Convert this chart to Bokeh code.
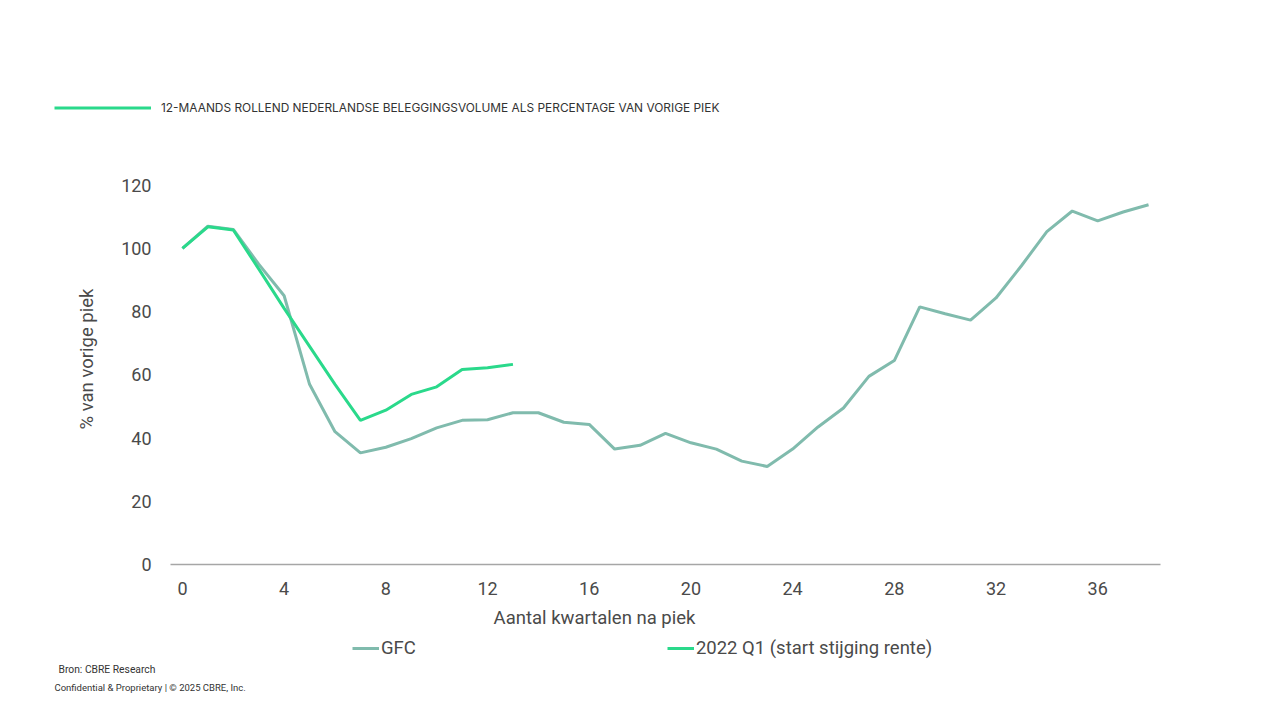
from bokeh.plotting import figure
from bokeh.layouts import column
from bokeh.models import (ColumnDataSource, Legend, LegendItem, Label, Range1d,
                          FixedTicker)
from bokeh.embed import file_html
from bokeh.resources import INLINE

# ---- data ----
gfc_quarters = list(range(0, 39))
gfc_values = [100, 107, 106, 95, 85, 57, 42, 35.3, 37.1, 39.8, 43.2, 45.6, 45.8,
              48.0, 48.0, 45.0, 44.3, 36.5, 37.7, 41.5, 38.5, 36.5, 32.7, 31.0,
              36.5, 43.5, 49.5, 59.5, 64.5, 81.5, 79.3, 77.3, 84.3, 94.5, 105.3,
              111.8, 108.7, 111.5, 113.8]
r22_quarters = list(range(0, 14))
r22_values = [100, 106.8, 105.8, 93.5, 81, 69, 57, 45.6, 48.8, 53.8, 56.2, 61.7,
              62.2, 63.3]
x_ticks = [0, 4, 8, 12, 16, 20, 24, 28, 32, 36]
y_ticks = [0, 20, 40, 60, 80, 100, 120]

series_names = ["GFC", "2022 Q1 (start stijging rente)"]
header_text = "12-MAANDS ROLLEND NEDERLANDSE BELEGGINGSVOLUME ALS PERCENTAGE VAN VORIGE PIEK"
x_title = "Aantal kwartalen na piek"
y_title = "% van vorige piek"
source_text = "Bron: CBRE Research"
footer_text = "Confidential & Proprietary  |  \u00a9 2025 CBRE, Inc."

GFC_COLOR = "#80BBAD"
NEW_COLOR = "#2AD98B"
TXT = "#4A4A4A"
FONT = "Roboto"
W = 1280
NAN = float("nan")


def blank_fig(h):
    f = figure(width=W, height=h, output_backend="svg", toolbar_location=None,
               x_range=Range1d(0, W), y_range=Range1d(0, h),
               min_border=0, outline_line_color=None, frame_align=False)
    f.axis.visible = False
    f.grid.visible = False
    return f


def legend_proxy(f, color):
    # invisible line (NaN values) used only to draw the legend swatch
    return f.line([0, 1], [NAN, NAN], line_color=color, line_width=3)


# ---------- header (legend of the chart) ----------
top = blank_fig(140)
t_line = legend_proxy(top, NEW_COLOR)
top_leg = Legend(items=[LegendItem(label=header_text, renderers=[t_line])],
                 location=(54, 140 - 115), glyph_width=97, glyph_height=13,
                 label_height=13, label_standoff=10,
                 label_text_font="Inter", label_text_font_size="11.9px",
                 label_text_color="#333333", padding=0, margin=0,
                 border_line_color=None, background_fill_alpha=0)
top.add_layout(top_leg)

# ---------- main chart ----------
p = figure(width=W, height=462, output_backend="svg", toolbar_location=None,
           x_range=Range1d(-0.47, 38.47), y_range=Range1d(0, 130),
           min_border_left=170, min_border_right=120, min_border_top=13,
           min_border_bottom=38, outline_line_color=None, frame_align=False)
p.grid.visible = False

src_gfc = ColumnDataSource(dict(x=gfc_quarters, y=gfc_values))
src_new = ColumnDataSource(dict(x=r22_quarters, y=r22_values))
r_gfc = p.line("x", "y", source=src_gfc, line_color=GFC_COLOR, line_width=3)
r_new = p.line("x", "y", source=src_new, line_color=NEW_COLOR, line_width=3)

xa = p.xaxis[0]
xa.ticker = FixedTicker(ticks=x_ticks)
xa.axis_line_color = "#A6A6A6"
xa.axis_line_width = 1.5
xa.major_tick_line_color = None
xa.minor_tick_line_color = None
xa.major_label_text_font = FONT
xa.major_label_text_font_size = "18px"
xa.major_label_text_color = TXT
xa.major_label_standoff = 11

ya = p.yaxis[0]
ya.ticker = FixedTicker(ticks=y_ticks)
ya.axis_line_color = None
ya.major_tick_line_color = None
ya.minor_tick_line_color = None
ya.major_label_text_font = FONT
ya.major_label_text_font_size = "18px"
ya.major_label_text_color = TXT
ya.major_label_standoff = 13
ya.axis_label = y_title
ya.axis_label_text_font = FONT
ya.axis_label_text_font_size = "18.5px"
ya.axis_label_text_font_style = "normal"
ya.axis_label_text_color = TXT
ya.axis_label_standoff = 20

# ---------- bottom: x title, series legend, footer ----------
bot = blank_fig(118)
bot.add_layout(Label(x=594, y=720 - 617, text=x_title, text_align="center",
                     text_baseline="middle", text_font=FONT,
                     text_font_size="18.5px", text_color=TXT))
b_gfc = legend_proxy(bot, GFC_COLOR)
b_new = legend_proxy(bot, NEW_COLOR)
bot_leg = Legend(items=[LegendItem(label=series_names[0], renderers=[b_gfc]),
                        LegendItem(label=series_names[1], renderers=[b_new])],
                 orientation="horizontal", location=(352, 720 - 659),
                 glyph_width=27, glyph_height=18, label_height=18,
                 label_standoff=2, spacing=251,
                 label_text_font=FONT, label_text_font_size="18.5px",
                 label_text_color=TXT, padding=0, margin=0,
                 border_line_color=None, background_fill_alpha=0)
bot.add_layout(bot_leg)
bot.add_layout(Label(x=58, y=720 - 669, text=source_text, text_align="left",
                     text_baseline="middle", text_font=FONT,
                     text_font_size="10.3px", text_color="#333333"))
bot.add_layout(Label(x=54, y=720 - 687, text=footer_text, text_align="left",
                     text_baseline="middle", text_font=FONT,
                     text_font_size="9.5px", text_color="#333333"))

layout = column(top, p, bot, spacing=0)
open("out.html", "w").write(file_html(layout, INLINE))
